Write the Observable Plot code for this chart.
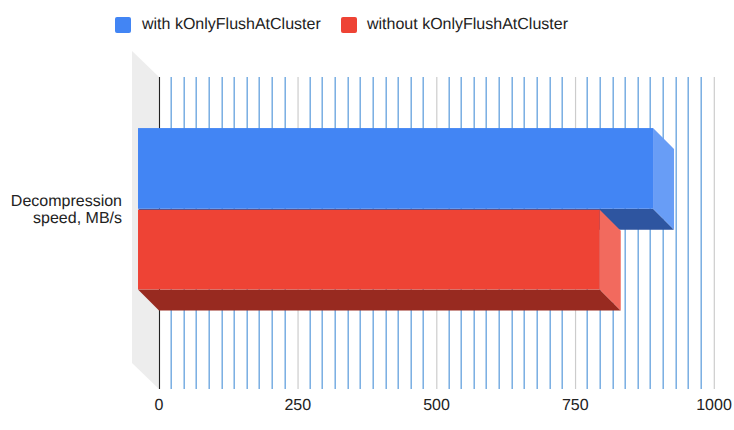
<!DOCTYPE html>
<html>
<head>
<meta charset="utf-8">
<script src="https://cdn.jsdelivr.net/npm/d3@7"></script>
<script src="https://cdn.jsdelivr.net/npm/@observablehq/plot@0.6"></script>
<style>
html,body{margin:0;padding:0;background:#fff;overflow:hidden}
body{width:734px;height:430px;font-family:"Liberation Sans",Arial,sans-serif;text-rendering:geometricPrecision}
#legend{position:relative;height:40px;width:734px;font-size:16px;color:#222}
#legend span{position:absolute;white-space:nowrap;top:16px;line-height:18px}
#legend i{position:absolute;top:17px;width:16px;height:16px;border-radius:2px}
svg{display:block;text-rendering:geometricPrecision}
</style>
</head>
<body>
<div id="legend"></div>
<div id="chart"></div>
<script>
const category = "Decompression\nspeed, MB/s";
const seriesNames = ["with kOnlyFlushAtCluster", "without kOnlyFlushAtCluster"];
const seriesValues = [928, 832];
const majorTicks = [250, 500, 750, 1000];
const axisTicks = [0, 250, 500, 750, 1000];
const frontColors = ["#4285f4", "#ee4335"];
const sideColors = ["#689df6", "#f26a5e"];
const bottomColors = ["#2e55a0", "#982a20"];

// Scale factor px per unit, used to snap the minor grid the way the reference does
const pxPerUnit = 0.555;
const minorTicks = d3.range(0, 44)
  .map(i => i * 250 / 11)
  .filter(v => v % 250 !== 0)
  .map(v => Math.floor(v * pxPerUnit) / pxPerUnit);

// 3D extrusion depth, in scale units
const depthX = 37.8, depthY = 0.0673;
const wallX = 48.6, wallY = 0.0833;
const barTop = 0.231, barStep = 0.2585, barGap = 0.0032;

const wall = [
  {x: -wallX, y1: -wallY, y2: 1 - wallY},
  {x: 0, y1: 0, y2: 1}
];

const marks = [
  Plot.areaY(wall, {x: "x", y1: "y1", y2: "y2", fill: "#ededed"}),
  Plot.ruleX(minorTicks, {y1: 0, y2: 1, stroke: "#6fa8e0", strokeWidth: 1.4, dx: -0.3}),
  Plot.ruleX(majorTicks, {y1: 0, y2: 1, stroke: "#cccccc", strokeWidth: 1.2, dx: -0.2}),
  Plot.ruleX([0], {y1: 0, y2: 1, stroke: "#222222", strokeWidth: 1.1})
];

seriesValues.forEach((v, i) => {
  const top = barTop + i * barStep + (i ? barGap : 0), bottom = barTop + (i + 1) * barStep;
  marks.push(
    Plot.areaX(
      [{y: bottom - depthY, x1: -depthX, x2: v - depthX}, {y: bottom, x1: 0, x2: v}],
      {y: "y", x1: "x1", x2: "x2", fill: bottomColors[i]}
    ),
    Plot.areaY(
      [{x: v - depthX, y1: top - depthY, y2: bottom - depthY}, {x: v, y1: top, y2: bottom}],
      {x: "x", y1: "y1", y2: "y2", fill: sideColors[i]}
    ),
    Plot.rect([v], {
      x1: -depthX, x2: v - depthX,
      y1: top - depthY, y2: bottom - depthY,
      fill: frontColors[i], inset: 0
    })
  );
});

marks.push(
  Plot.text([category], {
    x: 0, y: barTop + barStep - depthY,
    dx: -37.5, text: d => d, textAnchor: "end",
    fontSize: 16, fill: "#222", lineHeight: 1.06
  }),
  Plot.axisX({
    ticks: axisTicks, tickFormat: "d", tickSize: 0, tickPadding: 9,
    fontSize: 16, fill: "#222", anchor: "bottom", label: null, dx: -0.5
  })
);

const chart = Plot.plot({
  width: 734, height: 390,
  marginLeft: 159, marginRight: 20, marginTop: 37, marginBottom: 41,
  style: {fontFamily: '"Liberation Sans", Arial, sans-serif', background: "#fff", overflow: "visible"},
  x: {domain: [0, 1000], range: [159, 714], label: null},
  y: {domain: [0, 1], range: [37, 349], axis: null},
  marks
});
document.getElementById("chart").append(chart);

const legend = d3.select("#legend");
const positions = [[115, 142], [341, 367]];
seriesNames.forEach((name, i) => {
  legend.append("i").style("left", positions[i][0] + "px").style("background", frontColors[i]);
  legend.append("span").style("left", positions[i][1] + "px").text(name);
});
</script>
</body>
</html>
